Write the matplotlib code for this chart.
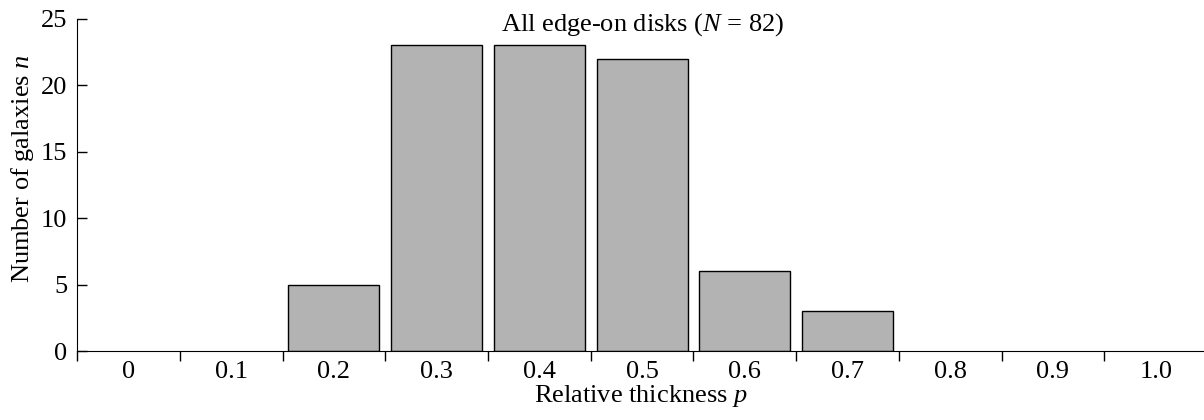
import numpy as np
import matplotlib.pyplot as plt

plt.rcParams['font.family'] = 'Liberation Serif'
plt.rcParams['mathtext.fontset'] = 'custom'
plt.rcParams['mathtext.rm'] = 'Liberation Serif'
plt.rcParams['mathtext.it'] = 'Liberation Serif:italic'
plt.rcParams['font.size'] = 19

categories = ['0', '0.1', '0.2', '0.3', '0.4', '0.5', '0.6', '0.7', '0.8', '0.9', '1.0']
counts = [0, 0, 5, 23, 23, 22, 6, 3, 0, 0, 0]
y_ticks = [0, 5, 10, 15, 20, 25]

fig = plt.figure(figsize=(12.04, 4.2), dpi=100)
ax = fig.add_axes([0.064, 0.164, 0.936, 0.791])

x = np.arange(len(categories))
nonzero = np.array(counts) > 0
ax.bar(x[nonzero], np.array(counts)[nonzero], width=0.885, color='#b3b3b3',
       edgecolor='black', linewidth=1.0)

ax.set_xlim(-0.5, 10.47)
ax.set_ylim(0, 25)
ax.spines['top'].set_visible(False)
ax.spines['right'].set_visible(False)
ax.spines['left'].set_bounds(0, 25)

# tick marks between categories, labels at category centres
ax.set_xticks(np.arange(-0.5, 10, 1.0))
ax.set_xticklabels([])
ax.set_xticks(x, minor=True)
ax.set_xticklabels(categories, minor=True)
ax.tick_params(axis='x', which='major', direction='out', length=7.5, width=1)
ax.tick_params(axis='x', which='minor', length=0, pad=7)
ax.set_yticks(y_ticks)
ax.tick_params(axis='y', direction='in', length=7.5, width=1, pad=7)

ax.set_xlabel('Relative thickness $p$', labelpad=0)
ax.set_ylabel('Number of galaxies $n$')
ax.yaxis.set_label_coords(-0.036, 0.55)
ax.text(5.0, 24.15, 'All edge-on disks ($N$ = 82)', ha='center', va='baseline')

fig.savefig('out.png', dpi=100)
